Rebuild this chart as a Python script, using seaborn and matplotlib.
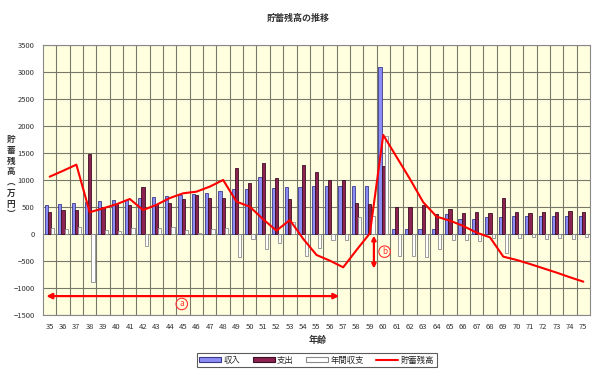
import matplotlib
matplotlib.use("Agg")
import matplotlib.pyplot as plt
import seaborn as sns
import pandas as pd
import numpy as np
from matplotlib.patches import Patch
from matplotlib.lines import Line2D

# ---- data (万円) ----
ages = list(range(35, 76))
income = [537, 556, 568, 600, 605, 623, 630, 660, 685, 698, 722, 741, 765, 790,
          827, 833, 1055, 845, 864, 877, 889, 889, 889, 889, 889, 3086,
          86, 86, 86, 86, 370, 272, 272, 321, 321, 333, 333, 333, 333, 333, 333]
expense = [414, 450, 438, 1480, 506, 549, 537, 877, 556, 568, 654, 722, 673, 673,
           1228, 938, 1321, 1031, 648, 1272, 1142, 1000, 1000, 568, 556, 1259,
           494, 494, 531, 370, 457, 383, 401, 389, 673, 401, 389, 414, 401, 432, 407]
balance = [117, 86, 123, -880, 74, 62, 105, -222, 111, 123, 68, 25, 86, 111,
           -420, -99, -284, -173, 216, -407, -265, -111, -111, 309, 333, 1821,
           -407, -407, -432, -278, -105, -117, -136, -74, -358, -80, -62, -93, -80, -99, -62]
savings = [1061, 1170, 1284, 402, 475, 550, 648, 444, 540, 665, 753, 784, 877, 1000,
           599, 506, 272, 62, 259, -90, -389, -494, -617, -296, 12, 1833,
           1426, 1019, 587, 321, 247, 148, 25, -62, -420, -481, -556, -636, -716, -802, -883]

series_names = ["収入", "支出", "年間収支"]
bar_colors = ["#8C8CF5", "#8B2252", "#FFFFFF"]
edge_colors = ["#3A3A8C", "#3A0F22", "#8A8A8A"]

df = pd.DataFrame({
    "age": ages * 3,
    "value": income + expense + balance,
    "series": [s for s in series_names for _ in ages],
})

sns.set_style("white")
plt.rcParams['font.family'] = ['Noto Sans CJK JP', 'DejaVu Sans']

fig = plt.figure(figsize=(6, 3.77), dpi=100)
ax = fig.add_axes([0.0717, 0.1645, 0.9117, 0.7162])
ax.set_facecolor("#FFFFE0")

sns.barplot(data=df, x="age", y="value", hue="series", hue_order=series_names,
            palette=bar_colors, width=0.72, gap=0, ax=ax, legend=False,
            saturation=1)
for cont, ec in zip(ax.containers, edge_colors):
    for bar in cont:
        bar.set_edgecolor(ec)
        bar.set_linewidth(0.6)
        bar.set_zorder(3)

pos = np.arange(len(ages))
sns.lineplot(x=pos, y=savings, color="#FF0000", linewidth=1.5, ax=ax,
             legend=False, zorder=4)

ax.set_xlim(-0.5, len(ages) - 0.5)
ax.set_ylim(-1500, 3500)
ax.set_yticks(np.arange(-1500, 3501, 500))
ax.set_xticks(pos)
ax.set_xticklabels([str(a) for a in ages])
ax.set_xticks(pos[:-1] + 0.5, minor=True)
ax.grid(True, which="major", axis="y", color="#77776A", linewidth=0.8, zorder=0)
ax.grid(True, which="minor", axis="x", color="#77776A", linewidth=0.8, zorder=0)
ax.grid(False, which="major", axis="x")
ax.set_axisbelow(True)
ax.tick_params(axis="both", which="major", labelsize=5.5, colors="#333333",
               length=0, pad=6)
ax.tick_params(which="minor", length=0)
for sp in ax.spines.values():
    sp.set_color("#888888")
    sp.set_linewidth(0.8)
ax.set_xlabel("")
ax.set_ylabel("")

# annotations
ax.annotate("", xy=(-0.25, -1150), xytext=(21.7, -1150),
            arrowprops=dict(arrowstyle="<|-|>", color="#FF0000", lw=1.6,
                            mutation_scale=8, shrinkA=0, shrinkB=0), zorder=5)
ax.text(9.9, -1296, "a", color="#FF3030", fontsize=6, ha="center", va="center",
        bbox=dict(boxstyle="circle,pad=0.15", fc="none", ec="#FF3030", lw=0.8),
        zorder=5)
ax.annotate("", xy=(24.3, -30), xytext=(24.3, -640),
            arrowprops=dict(arrowstyle="<|-|>", color="#FF0000", lw=1.6,
                            mutation_scale=6, shrinkA=0, shrinkB=0), zorder=5)
ax.text(25.1, -327, "b", color="#FF3030", fontsize=6, ha="center", va="center",
        bbox=dict(boxstyle="circle,pad=0.15", fc="none", ec="#FF3030", lw=0.8),
        zorder=5)

# texts
fig.text(0.497, 0.952, "貯蓄残高の推移", fontsize=6.5, fontweight="bold",
         color="#333333", ha="center", va="center")
fig.text(0.53, 0.098, "年齢", fontsize=6.5, fontweight="bold",
         color="#333333", ha="center", va="center")
fig.text(0.018, 0.53, "貯\n蓄\n残\n高\n︵\n万\n円\n︶", fontsize=6.2,
         fontweight="bold", color="#333333", ha="center", va="center",
         linespacing=1.25)

handles = [Patch(facecolor=c, edgecolor=e, linewidth=0.8)
           for c, e in zip(bar_colors, edge_colors)]
handles.append(Line2D([0], [0], color="#FF0000", lw=1.5))
leg = fig.legend(handles, series_names + ["貯蓄残高"], loc="center",
                 bbox_to_anchor=(0.528, 0.045), ncol=4, fontsize=6,
                 frameon=True, fancybox=False, edgecolor="#333333",
                 handlelength=2.6, handleheight=0.5, handletextpad=0.3,
                 columnspacing=1.5, borderpad=0.35)
leg.get_frame().set_linewidth(0.8)

fig.savefig("out.png", dpi=100, facecolor="white")
